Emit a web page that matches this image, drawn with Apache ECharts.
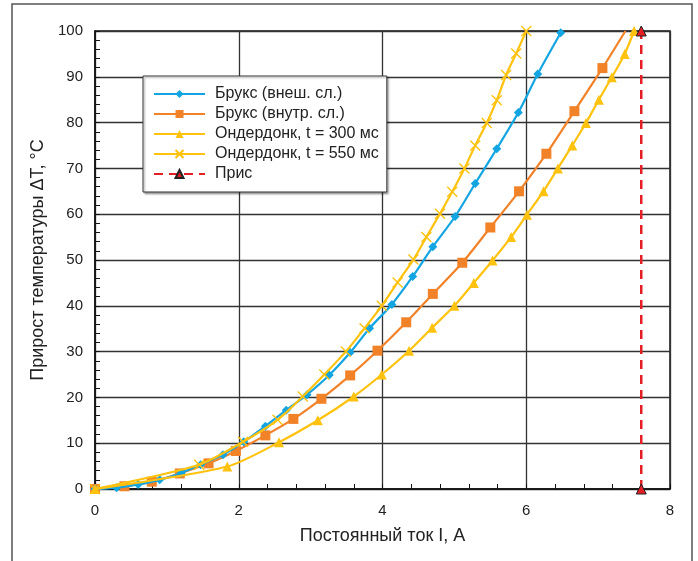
<!DOCTYPE html>
<html>
<head>
<meta charset="utf-8">
<script src="https://cdn.jsdelivr.net/npm/echarts@6/dist/echarts.min.js"></script>
<style>
html, body { margin: 0; padding: 0; background: #fff; }
#main { width: 698px; height: 561px; }
</style>
</head>
<body>
<div id="main"></div>
<script>
// Брукс (внеш. сл.)
var bruksOutX = [0, 0.30, 0.60, 0.90, 1.20, 1.47, 1.78, 2.07, 2.37, 2.66, 2.95, 3.26, 3.55, 3.82, 4.13, 4.42, 4.70, 5.01, 5.29, 5.59, 5.89, 6.16, 6.48];
var bruksOutY = [0, 0.3, 1.0, 2.0, 3.5, 5.3, 7.5, 10.3, 13.7, 17.2, 20.6, 24.9, 29.8, 35.1, 40.3, 46.4, 52.9, 59.5, 66.7, 74.3, 82.2, 90.6, 99.6];
// Брукс (внутр. сл.)
var bruksInX = [0, 0.41, 0.79, 1.18, 1.58, 1.96, 2.37, 2.76, 3.15, 3.55, 3.93, 4.33, 4.70, 5.11, 5.50, 5.90, 6.28, 6.67, 7.06, 7.38];
var bruksInY = [0, 0.6, 1.6, 3.4, 5.6, 8.3, 11.7, 15.3, 19.7, 24.8, 30.2, 36.4, 42.6, 49.4, 57.1, 65.0, 73.2, 82.5, 91.9, 100];
// Ондердонк, t = 300 мс
var ond300X = [0, 1.84, 2.56, 3.10, 3.60, 3.99, 4.37, 4.69, 5.00, 5.27, 5.53, 5.79, 6.01, 6.24, 6.44, 6.64, 6.83, 7.01, 7.19, 7.37, 7.50];
var ond300Y = [0, 4.9, 10.2, 15, 20.2, 25, 30.2, 35.2, 40, 45, 49.9, 55, 59.9, 65, 70, 75, 79.9, 85, 89.9, 95, 100];
// Ондердонк, t = 550 мс
var ond550X = [0, 1.45, 2.06, 2.54, 2.89, 3.19, 3.49, 3.75, 3.99, 4.21, 4.43, 4.61, 4.80, 4.97, 5.14, 5.29, 5.45, 5.59, 5.72, 5.86, 6.00];
var ond550Y = [0, 5.3, 10.3, 15.1, 20.2, 25, 30, 35.1, 40, 45.1, 50.1, 55, 60.1, 64.9, 70, 75, 79.9, 84.9, 90.4, 95.1, 100];
// Прис
var prisX = [7.6, 7.6];
var prisY = [0, 100];

var names = ['Брукс (внеш. сл.)', 'Брукс (внутр. сл.)', 'Ондердонк, t = 300 мс', 'Ондердонк, t = 550 мс', 'Прис'];

var zip = function (xs, ys) {
	return xs.map(function (x, i) { return [x, ys[i]]; });
};

var font = '"Liberation Sans", Arial, sans-serif';
var xMark = 'path://M0,0L10,10M10,0L0,10';

var bruksInData = zip(bruksInX, bruksInY);
// last point of the orange curve has no marker
bruksInData[bruksInData.length - 1] = { value: bruksInData[bruksInData.length - 1], symbol: 'none' };

var chart = echarts.init(document.getElementById('main'));
chart.setOption({
	animation: false,
	textStyle: { fontFamily: font },
	graphic: [{
		type: 'rect',
		shape: { x: 12, y: 4, width: 680, height: 620 },
		style: { fill: 'none', stroke: '#555', lineWidth: 1.5 },
		z: -1
	}],
	grid: {
		left: 95, top: 31, right: 28, bottom: 72,
		show: true, borderColor: '#111', borderWidth: 1.5
	},
	legend: {
		orient: 'vertical',
		left: 143, top: 76,
		padding: [10, 8, 10, 10],
		itemWidth: 51, itemHeight: 10, itemGap: 4,
		backgroundColor: '#fff',
		borderColor: '#333', borderWidth: 1,
		shadowColor: 'rgba(0,0,0,0.35)', shadowBlur: 2, shadowOffsetX: 1.5, shadowOffsetY: 1.5,
		textStyle: { fontFamily: font, fontSize: 16, color: '#222', padding: [0, 0, 0, 5] },
		data: names
	},
	xAxis: {
		type: 'value', min: 0, max: 8, interval: 2,
		name: 'Постоянный ток I, A', nameLocation: 'middle', nameGap: 38,
		nameTextStyle: { fontFamily: font, fontSize: 18, color: '#222' },
		axisLine: { lineStyle: { color: '#111', width: 1.5 } },
		axisTick: { inside: true, length: 5, lineStyle: { color: '#111' } },
		minorTick: { show: true, splitNumber: 5, length: 5, lineStyle: { color: '#111' } },
		axisLabel: { fontFamily: font, fontSize: 15, color: '#222', margin: 14 },
		splitLine: { lineStyle: { color: '#333', width: 1.3 } }
	},
	yAxis: {
		type: 'value', min: 0, max: 100, interval: 10,
		name: 'Прирост температуры ΔT, °C', nameLocation: 'middle', nameGap: 41,
		nameTextStyle: { fontFamily: font, fontSize: 18, color: '#222' },
		axisLine: { lineStyle: { color: '#111', width: 1.5 } },
		axisTick: { inside: true, length: 5, lineStyle: { color: '#111' } },
		minorTick: { show: true, splitNumber: 5, length: 5, lineStyle: { color: '#111' } },
		axisLabel: { fontFamily: font, fontSize: 15, color: '#222', margin: 12 },
		splitLine: { lineStyle: { color: '#333', width: 1.3 } }
	},
	series: [{
		name: names[0], type: 'line', smooth: 0.25,
		symbol: 'diamond', symbolSize: 9,
		itemStyle: { color: '#12A5E2' },
		lineStyle: { width: 2.2 },
		data: zip(bruksOutX, bruksOutY),
		z: 3
	}, {
		name: names[1], type: 'line', smooth: 0.25,
		symbol: 'rect', symbolSize: 10,
		itemStyle: { color: '#F28228' },
		lineStyle: { width: 2.2 },
		data: bruksInData,
		z: 2
	}, {
		name: names[2], type: 'line', smooth: 0.25,
		symbol: 'triangle', symbolSize: 10,
		itemStyle: { color: '#FFC20E' },
		lineStyle: { width: 2.2 },
		data: zip(ond300X, ond300Y),
		z: 4
	}, {
		name: names[3], type: 'line', smooth: 0.25,
		symbol: xMark, symbolSize: 10,
		itemStyle: { color: '#FFC20E', borderColor: '#FFC20E', borderWidth: 1.4 },
		lineStyle: { width: 2.2, color: '#FFC20E' },
		data: zip(ond550X, ond550Y),
		z: 4
	}, {
		name: names[4], type: 'line', clip: false,
		symbol: 'triangle', symbolSize: 10,
		itemStyle: { color: '#E31E24', borderColor: '#222', borderWidth: 1 },
		lineStyle: { width: 2.5, type: [9, 6], color: '#E31E24' },
		data: zip(prisX, prisY),
		z: 5
	}]
});
</script>
</body>
</html>
